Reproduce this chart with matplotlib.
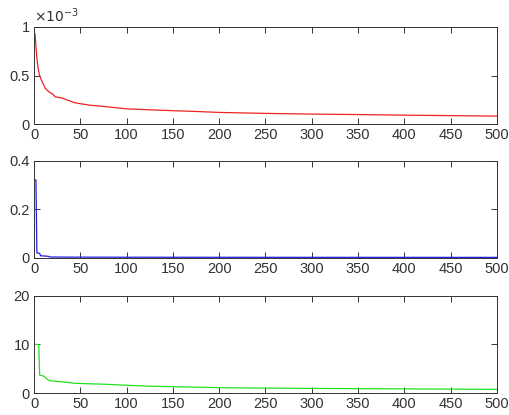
import matplotlib.pyplot as plt

# top panel (values in units of 1e-3)
x_top = [1, 2, 3, 4, 5, 6, 8, 10, 12, 15, 18, 20, 23, 30, 35, 44, 50, 60, 77,
         100, 125, 150, 175, 200, 250, 300, 350, 400, 450, 500]
y_top = [0.93, 0.80, 0.68, 0.60, 0.54, 0.50, 0.45, 0.41, 0.37, 0.34, 0.32, 0.31, 0.28,
         0.27, 0.25, 0.22, 0.21, 0.195, 0.18, 0.157, 0.147, 0.138, 0.13, 0.12, 0.11,
         0.103, 0.098, 0.092, 0.087, 0.082]

# middle panel
x_mid = [1, 2, 3, 6, 7, 15, 17, 30, 100, 200, 300, 400, 500]
y_mid = [0.32, 0.32, 0.02, 0.018, 0.008, 0.006, 0.003, 0.0025, 0.002, 0.0018,
         0.0016, 0.0015, 0.0014]

# bottom panel
x_bot = [1, 5, 6, 8, 10, 12, 14, 16, 18, 25, 35, 44, 60, 77, 100, 125, 150, 200,
         250, 300, 350, 400, 450, 500]
y_bot = [10, 10, 3.7, 3.6, 3.5, 3.2, 2.9, 2.6, 2.5, 2.4, 2.2, 2.0, 1.9, 1.8, 1.6,
         1.4, 1.3, 1.1, 1.0, 0.95, 0.9, 0.85, 0.8, 0.75]

x_ticks = list(range(0, 501, 50))
panels = [
    (x_top, y_top, '#ee2222', [0, 0.5, 1], ['0', '0.5', '1']),
    (x_mid, y_mid, '#2020e0', [0, 0.2, 0.4], ['0', '0.2', '0.4']),
    (x_bot, y_bot, '#22e022', [0, 10, 20], ['0', '10', '20']),
]
bottoms = [0.701, 0.379, 0.053]

plt.rcParams['font.family'] = ['Liberation Sans', 'DejaVu Sans']
fig = plt.figure(figsize=(5.09, 4.15), dpi=100)

ink = '#333333'
for (xs, ys, col, yt, ytl), b in zip(panels, bottoms):
    ax = fig.add_axes([0.067, b, 0.909, 0.234])
    ax.plot(xs, ys, color=col, linewidth=0.9)
    ax.set_xlim(0, 500)
    ax.set_ylim(yt[0], yt[-1])
    ax.set_xticks(x_ticks)
    ax.set_yticks(yt)
    ax.set_yticklabels(ytl)
    ax.tick_params(direction='in', top=True, right=True, length=4, width=0.7,
                   colors=ink, labelsize=10.5, pad=3)
    for s in ax.spines.values():
        s.set_color(ink)
        s.set_linewidth(0.7)

fig.text(0.067, 0.94, r'$\times10^{-3}$', fontsize=10, color=ink, ha='left', va='bottom')

fig.savefig('out.png', dpi=100)
